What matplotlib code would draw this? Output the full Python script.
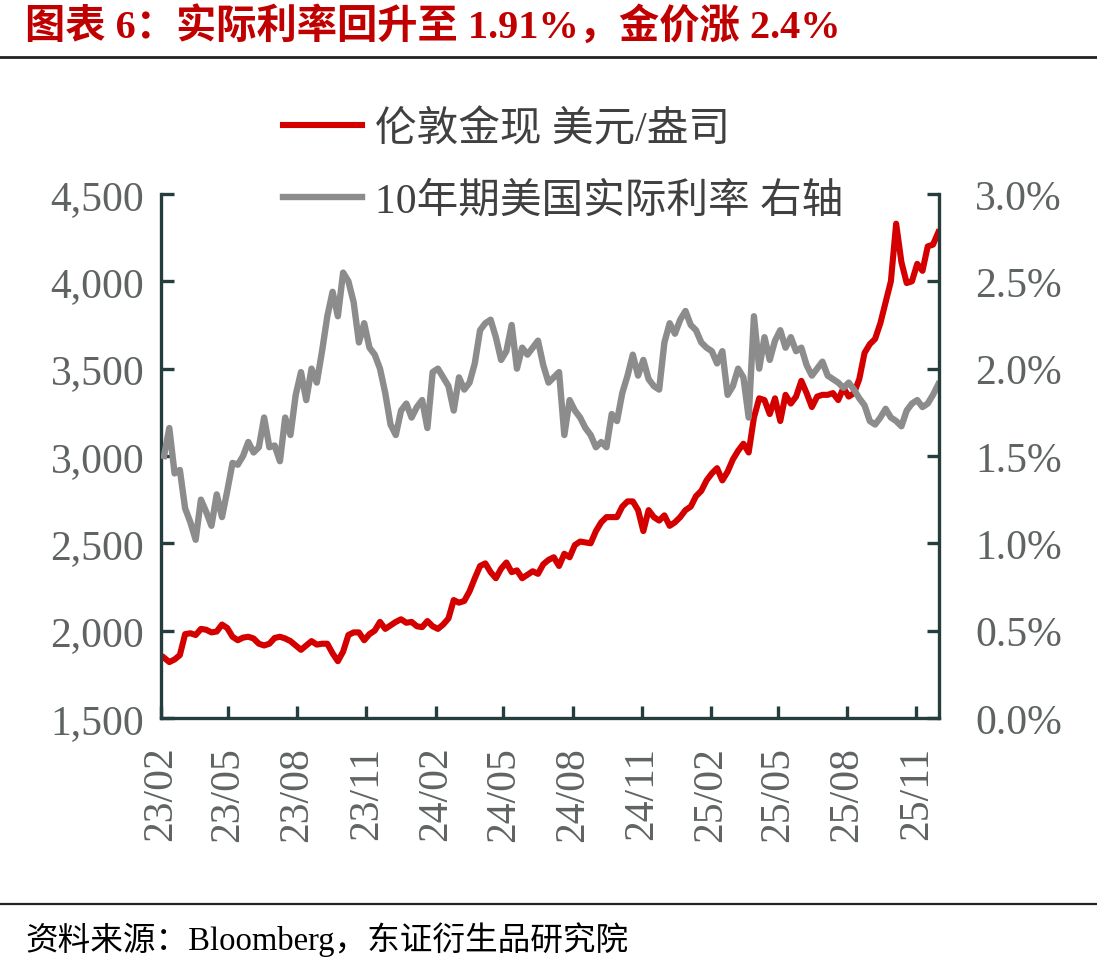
import pandas as pd
import matplotlib.pyplot as plt
import matplotlib.dates as mdates
from matplotlib.ticker import FuncFormatter
from matplotlib.lines import Line2D

plt.rcParams['font.family'] = ['Liberation Serif', 'Noto Sans CJK SC']

dates = pd.date_range("2023-02-17", periods=148, freq="W-FRI")

gold = [
    1845, 1820, 1835, 1860, 1980, 1985, 1975, 2010, 2005, 1990,
    1995, 2035, 2015, 1965, 1945, 1960, 1965, 1955, 1925, 1915,
    1925, 1958, 1965, 1955, 1940, 1915, 1890, 1915, 1940, 1920,
    1925, 1925, 1870, 1825, 1880, 1975, 1990, 1990, 1945, 1980,
    2000, 2050, 2010, 2030, 2050, 2065, 2045, 2050, 2025, 2020,
    2055, 2025, 2010, 2035, 2070, 2175, 2160, 2170, 2225, 2300,
    2370, 2385, 2335, 2300, 2355, 2390, 2335, 2345, 2300, 2320,
    2340, 2325, 2380, 2405, 2420, 2370, 2440, 2420, 2490, 2510,
    2505, 2500, 2570, 2620, 2650, 2650, 2650, 2710, 2740, 2740,
    2690, 2570, 2690, 2650, 2630, 2660, 2600, 2620, 2650, 2690,
    2710, 2770, 2800, 2860, 2900, 2930, 2860, 2910, 2980, 3030,
    3070, 3020, 3220, 3330, 3320, 3240, 3330, 3200, 3350, 3300,
    3340, 3430, 3360, 3280, 3340, 3350, 3350, 3360, 3320, 3390,
    3340, 3360, 3440, 3590, 3640, 3670, 3760, 3880, 4000, 4330,
    4110, 3990, 4000, 4100, 4060, 4200, 4210, 4280,
]

real_rate = [
    1.50, 1.66, 1.40, 1.42, 1.20, 1.12, 1.02, 1.25, 1.18, 1.10,
    1.28, 1.15, 1.30, 1.46, 1.45, 1.50, 1.58, 1.52, 1.55, 1.72,
    1.55, 1.56, 1.47, 1.72, 1.62, 1.85, 1.98, 1.82, 2.00, 1.92,
    2.10, 2.30, 2.44, 2.30, 2.55, 2.50, 2.38, 2.15, 2.26, 2.12,
    2.08, 2.00, 1.86, 1.68, 1.62, 1.76, 1.80, 1.72, 1.78, 1.82,
    1.66, 1.98, 2.00, 1.95, 1.90, 1.76, 1.95, 1.88, 1.92, 2.03,
    2.22, 2.26, 2.28, 2.18, 2.05, 2.10, 2.25, 2.00, 2.12, 2.08,
    2.12, 2.16, 2.02, 1.92, 1.95, 1.98, 1.62, 1.82, 1.76, 1.72,
    1.66, 1.62, 1.55, 1.58, 1.55, 1.74, 1.70, 1.86, 1.96, 2.08,
    1.96, 2.05, 1.94, 1.90, 1.88, 2.15, 2.26, 2.20, 2.28, 2.33,
    2.25, 2.22, 2.15, 2.12, 2.10, 2.03, 2.10, 1.85, 1.90, 2.00,
    1.95, 1.72, 2.30, 2.00, 2.18, 2.05, 2.16, 2.22, 2.12, 2.18,
    2.10, 2.12, 2.02, 1.96, 2.00, 2.04, 1.96, 1.94, 1.92, 1.89,
    1.92, 1.88, 1.83, 1.79, 1.70, 1.68, 1.72, 1.77, 1.72, 1.70,
    1.67, 1.76, 1.80, 1.82, 1.78, 1.80, 1.85, 1.91,
]

x_ticks = pd.date_range("2023-02-13", periods=12, freq=pd.DateOffset(months=3))
left_ticks = [1500, 2000, 2500, 3000, 3500, 4000, 4500]
right_ticks = [0.0, 0.5, 1.0, 1.5, 2.0, 2.5, 3.0]

title = "图表 6：实际利率回升至 1.91%，金价涨 2.4%"
labels = ["伦敦金现 美元/盎司", "10年期美国实际利率 右轴"]
source = "资料来源：Bloomberg，东证衍生品研究院"

spine_c = "#263d3d"
label_c = "#5f6363"

fig = plt.figure(figsize=(10.97, 9.70), dpi=100)
ax = fig.add_axes([0.1468, 0.2588, 0.7092, 0.5402])
ax2 = ax.twinx()

l1, = ax.plot(dates, gold, color="#D40000", lw=4.4)
l2, = ax2.plot(dates, real_rate, color="#8C8C8C", lw=4.6)

ax.set_xlim(pd.Timestamp("2023-02-13"), pd.Timestamp("2025-12-13"))
ax.set_ylim(1500, 4500)
ax2.set_ylim(0, 3.0)

ax.set_yticks(left_ticks)
ax.yaxis.set_major_formatter(FuncFormatter(lambda v, p: f"{v:,.0f}"))
ax2.set_yticks(right_ticks)
ax2.yaxis.set_major_formatter(FuncFormatter(lambda v, p: f"{v:.1f}%"))
ax.set_xticks(x_ticks)
ax.xaxis.set_major_formatter(mdates.DateFormatter("%y/%m"))

ax.spines["top"].set_visible(False)
ax.spines["right"].set_visible(False)
for s in ["top", "left", "bottom"]:
    ax2.spines[s].set_visible(False)
for s in ["left", "bottom"]:
    ax.spines[s].set_color(spine_c)
    ax.spines[s].set_linewidth(2.4)
ax2.spines["right"].set_color(spine_c)
ax2.spines["right"].set_linewidth(2.4)

ax.tick_params(axis="both", direction="in", length=9, width=2.4, color=spine_c,
               labelsize=30, labelcolor=label_c)
ax.tick_params(axis="x", rotation=90, pad=20)
ax.tick_params(axis="y", pad=12)
ax2.tick_params(axis="y", direction="in", length=9, width=2.4, color=spine_c,
                labelsize=30, labelcolor=label_c, pad=26)

fig.legend([l1, l2], labels, loc="upper left", bbox_to_anchor=(283 / 1097, 0.886),
           frameon=False, fontsize=30, handlelength=1.9, handletextpad=0.3,
           labelspacing=0.8, borderpad=0, borderaxespad=0, labelcolor="#404040")

fig.text(25 / 1097, 1 - 28 / 970, title, fontsize=29, fontweight="bold",
         color="#C00000", va="center", ha="left")
fig.add_artist(Line2D([0, 1], [1 - 58 / 970] * 2, color="#222222", lw=2))
fig.add_artist(Line2D([0, 1], [1 - 905 / 970] * 2, color="#222222", lw=1.6))
fig.text(25 / 1097, 1 - 940 / 970, source, fontsize=23.5, color="black",
         va="center", ha="left")

fig.savefig("out.png", dpi=100)
